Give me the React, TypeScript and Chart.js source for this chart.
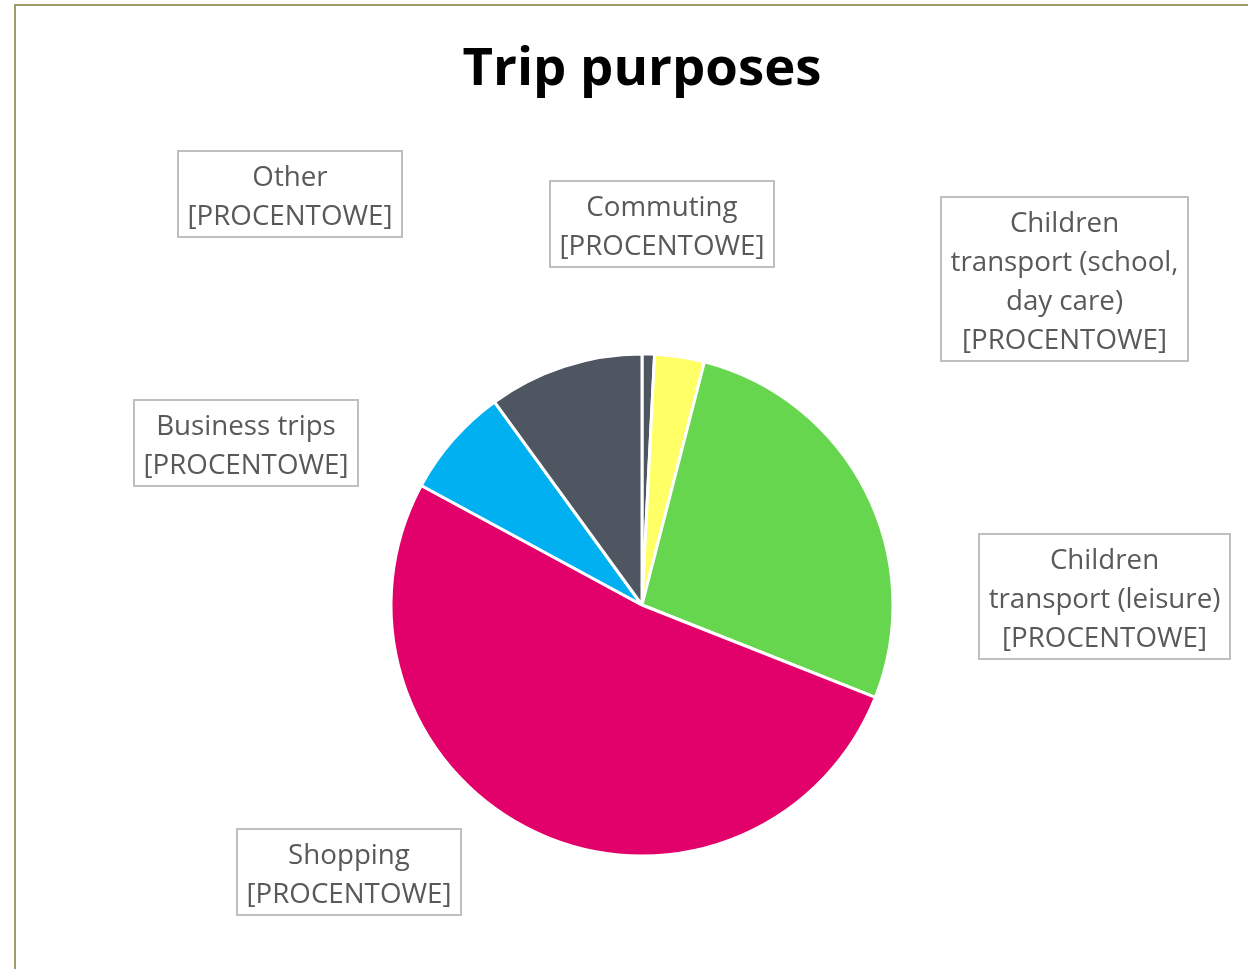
import React, { useEffect, useRef } from "react";
import { Chart, registerables } from "chart.js";

Chart.register(...registerables);

const categories = [
  "Commuting",
  "Children transport (school, day care)",
  "Children transport (leisure)",
  "Shopping",
  "Business trips",
  "Other",
];
const shares = [0.8, 3.2, 27.0, 51.9, 7.1, 10.0];
const sliceColors = ["#4E5661", "#FFFF66", "#66D64F", "#E2006A", "#00B0F0", "#4E5661"];
const labelLines = [
  ["Commuting", "[PROCENTOWE]"],
  ["Children", "transport (school,", "day care)", "[PROCENTOWE]"],
  ["Children", "transport (leisure)", "[PROCENTOWE]"],
  ["Shopping", "[PROCENTOWE]"],
  ["Business trips", "[PROCENTOWE]"],
  ["Other", "[PROCENTOWE]"],
];
// label box layout: [left, top, right, bottom]
const labelBoxes = [
  [550, 181, 774, 267],
  [941, 197, 1188, 361],
  [979, 534, 1230, 659],
  [237, 829, 461, 915],
  [134, 400, 358, 486],
  [178, 151, 402, 237],
];
const titleText = "Trip purposes";
const FONT = "'Open Sans', 'Noto Sans', sans-serif";

const decorPlugin = {
  id: "decor",
  beforeDraw(chart: any) {
    const ctx = chart.ctx;
    ctx.save();
    ctx.fillStyle = "#ffffff";
    ctx.fillRect(0, 0, chart.width, chart.height);
    ctx.fillStyle = "#A09B6B";
    ctx.fillRect(14, 4, chart.width - 14, 2);
    ctx.fillRect(14, 4, 2, chart.height - 4);
    ctx.restore();
  },
  afterDraw(chart: any) {
    const ctx = chart.ctx;
    ctx.save();
    // title
    ctx.font = `bold 100px ${FONT}`;
    const tw = ctx.measureText(titleText).width;
    const tsize = (100 * 359) / tw;
    ctx.font = `bold ${tsize}px ${FONT}`;
    ctx.fillStyle = "#000000";
    ctx.textAlign = "center";
    ctx.textBaseline = "middle";
    ctx.fillText(titleText, 642, 70);

    // labels
    ctx.font = `100px ${FONT}`;
    const lw = ctx.measureText("[PROCENTOWE]").width;
    const lsize = (100 * 205) / lw;
    ctx.font = `${lsize}px ${FONT}`;
    const lineH = 39;
    labelBoxes.forEach((b, i) => {
      const [l, t, r, bt] = b;
      ctx.strokeStyle = "#BFBFBF";
      ctx.lineWidth = 2;
      ctx.strokeRect(l, t, r - l, bt - t);
      const lines = labelLines[i];
      const cx = (l + r) / 2;
      const cy = (t + bt) / 2 + 4;
      const start = cy - ((lines.length - 1) * lineH) / 2;
      ctx.fillStyle = "#595959";
      lines.forEach((s, k) => ctx.fillText(s, cx, start + k * lineH));
    });
    ctx.restore();
  },
};

export default function App() {
  const ref = useRef<HTMLCanvasElement | null>(null);
  useEffect(() => {
    document.body.style.margin = "0";
    const chart = new Chart(ref.current as HTMLCanvasElement, {
      type: "pie",
      data: {
        labels: categories,
        datasets: [
          {
            data: shares,
            backgroundColor: sliceColors,
            borderColor: "#ffffff",
            borderWidth: 3,
          },
        ],
      },
      options: {
        animation: false,
        responsive: false,
        layout: { padding: { left: 389.5, right: 353.5, top: 352.5, bottom: 111.5 } },
        plugins: {
          legend: { display: false },
          tooltip: { enabled: false },
          title: { display: false },
        },
      },
      plugins: [decorPlugin],
    });
    return () => chart.destroy();
  }, []);
  return (
    <div style={{ position: "absolute", left: 0, top: 0, width: 1248, height: 969 }}>
      <canvas ref={ref} width={1248} height={969} style={{ width: 1248, height: 969 }} />
    </div>
  );
}
